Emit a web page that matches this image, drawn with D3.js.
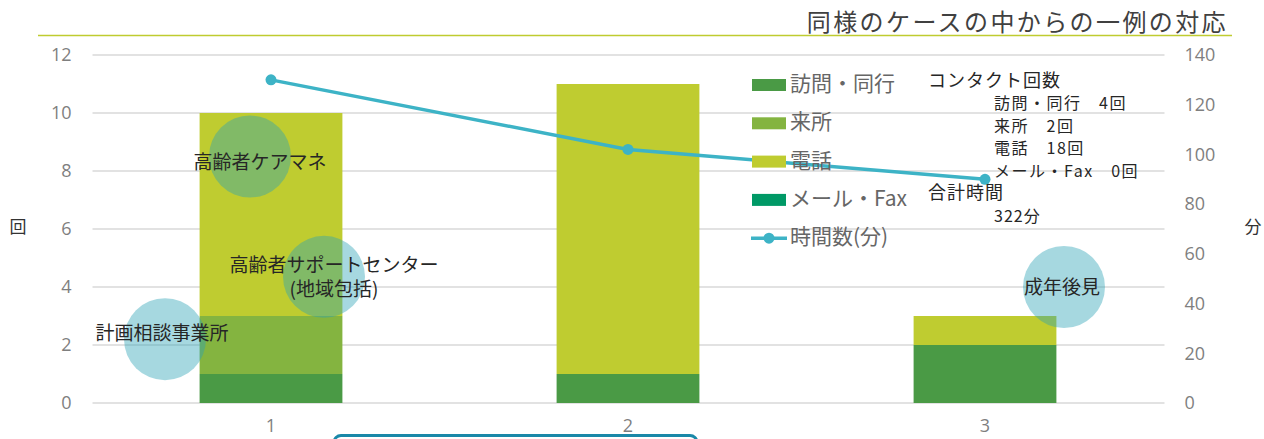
<!DOCTYPE html>
<html><head><meta charset="utf-8">
<script src="https://cdn.jsdelivr.net/npm/d3@7"></script>
<style>
html,body{margin:0;padding:0;background:#fff;}
svg{display:block;font-family:"Noto Sans CJK JP","Noto Sans",sans-serif;}
</style></head>
<body><svg id="c" width="1264" height="439"></svg>
<script>
const categories = ["1","2","3"];
const seriesNames = ["訪問・同行","来所","電話","メール・Fax"];
const seriesColors = ["#4a9a45","#84b440","#bfcc30","#009966"];
const visitValues = [1,1,2];
const comeValues = [2,0,0];
const phoneValues = [7,10,1];
const mailValues = [0,0,0];
const minutesValues = [130,102,90];
const lineName = "時間数(分)";
const leftTicks = [0,2,4,6,8,10,12];
const rightTicks = [0,20,40,60,80,100,120,140];
const title = "同様のケースの中からの一例の対応";
const summaryHead = "コンタクト回数";
const summaryLines = ["訪問・同行　4回","来所　2回","電話　18回","メール・Fax　0回"];
const totalHead = "合計時間";
const totalValue = "322分";
const bubbleLabels = [
  {lines:["計画相談事業所"], cat:"1", dx:-106, v:2.2, ty:2.4, ox:-3},
  {lines:["高齢者ケアマネ"], cat:"1", dx:-21, v:8.5, ty:8.3, ox:10},
  {lines:["高齢者サポートセンター","(地域包括)"], cat:"1", dx:53, v:4.35, ty:4.75, ox:10},
  {lines:["成年後見"], cat:"3", dx:79, v:4.0, ty:4.0, ox:-2}
];

const svg = d3.select("#c");
const L = 92.5, R = 1163.5, T = 55, B = 403;
const x = d3.scaleBand().domain(categories).range([L,R]).paddingInner(0.6).paddingOuter(0.3);
const y = d3.scaleLinear().domain([0,12]).range([B,T]);
const y2 = d3.scaleLinear().domain([0,140]).range([B,T]);

// title
svg.append("text").attr("x",1228).attr("y",31).attr("text-anchor","end")
  .attr("font-size",24).attr("letter-spacing",2.4).attr("fill","#404040").text(title);
svg.append("line").attr("x1",38).attr("x2",1232).attr("y1",35.5).attr("y2",35.5)
  .attr("stroke","#bfcc30").attr("stroke-width",1.5);

// gridlines
svg.append("g").selectAll("line").data(leftTicks).join("line")
  .attr("x1",L).attr("x2",R+1).attr("y1",d=>y(d)).attr("y2",d=>y(d))
  .attr("stroke","#d9d9d9").attr("stroke-width",1.3);

// axes
const ga = svg.append("g").attr("transform",`translate(${L},0)`)
  .call(d3.axisLeft(y).tickValues(leftTicks).tickSize(0).tickPadding(21));
ga.select(".domain").remove();
ga.selectAll("text").attr("font-size",18).attr("fill","#7f7f7f").attr("font-family","Open Sans, sans-serif");
const gr = svg.append("g").attr("transform",`translate(${R},0)`)
  .call(d3.axisRight(y2).tickValues(rightTicks).tickSize(0).tickPadding(21));
gr.select(".domain").remove();
gr.selectAll("text").attr("font-size",18).attr("fill","#7f7f7f").attr("font-family","Open Sans, sans-serif");
const gb = svg.append("g").attr("transform",`translate(0,${B})`)
  .call(d3.axisBottom(x).tickSize(0).tickPadding(16));
gb.select(".domain").remove();
gb.selectAll("text").attr("font-size",18).attr("fill","#7f7f7f").attr("font-family","Open Sans, sans-serif");

svg.append("text").attr("x",18).attr("y",225).attr("text-anchor","middle").attr("dominant-baseline","central")
  .attr("font-size",17).attr("fill","#333").text("回");
svg.append("text").attr("x",1253).attr("y",225).attr("text-anchor","middle").attr("dominant-baseline","central")
  .attr("font-size",17).attr("fill","#333").text("分");

// stacked bars
const rows = categories.map((c,i)=>({cat:c, s0:visitValues[i], s1:comeValues[i], s2:phoneValues[i], s3:mailValues[i]}));
const stack = d3.stack().keys(["s0","s1","s2","s3"])(rows);
svg.append("g").selectAll("g").data(stack).join("g").attr("fill",(d,i)=>seriesColors[i])
  .selectAll("rect").data(d=>d).join("rect")
  .attr("x",d=>x(d.data.cat)).attr("width",x.bandwidth())
  .attr("y",d=>y(d[1])).attr("height",d=>y(d[0])-y(d[1]));

// bubbles
const cx = c => x(c)+x.bandwidth()/2;
svg.append("g").selectAll("circle").data(bubbleLabels).join("circle")
  .attr("cx",d=>cx(d.cat)+d.dx).attr("cy",d=>y(d.v)).attr("r",41)
  .attr("fill","rgb(42,163,182)").attr("fill-opacity",0.42);

// line
const line = d3.line().x((d,i)=>cx(categories[i])).y(d=>y2(d));
svg.append("path").datum(minutesValues).attr("d",line).attr("fill","none")
  .attr("stroke","#3db3c6").attr("stroke-width",3.5);
svg.append("g").selectAll("circle").data(minutesValues).join("circle")
  .attr("cx",(d,i)=>cx(categories[i])).attr("cy",d=>y2(d)).attr("r",5.5).attr("fill","#3db3c6");

// bubble labels (one text element per line)
bubbleLabels.forEach(b=>{
  b.lines.forEach((ln,j)=>{
    svg.append("text").attr("text-anchor","middle").attr("font-size",19).attr("fill","#262626")
      .attr("x",cx(b.cat)+b.dx+b.ox).attr("y",y(b.ty)+7+j*24).text(ln);
  });
});

// legend
const legItems = seriesNames.map((n,i)=>({name:n,color:seriesColors[i],type:"rect"}))
  .concat([{name:lineName,color:"#3db3c6",type:"line"}]);
const lg = svg.append("g");
legItems.forEach((d,i)=>{
  const yy = 85 + i*38.3;
  if(d.type==="rect"){
    lg.append("rect").attr("x",752).attr("y",yy-6).attr("width",34).attr("height",12).attr("fill",d.color);
  } else {
    lg.append("line").attr("x1",751).attr("x2",787).attr("y1",yy).attr("y2",yy).attr("stroke",d.color).attr("stroke-width",3.5);
    lg.append("circle").attr("cx",769).attr("cy",yy).attr("r",5.5).attr("fill",d.color);
  }
  lg.append("text").attr("x",790).attr("y",yy-3).attr("dominant-baseline","central")
    .attr("font-size",21).attr("fill","#666").text(d.name);
});

// summary annotations
svg.append("text").attr("x",928).attr("y",87).attr("font-size",18).attr("letter-spacing",1).attr("fill","#262626").text(summaryHead);
summaryLines.forEach((s,i)=>{
  svg.append("text").attr("x",994).attr("y",109+i*22.6).attr("font-size",16).attr("letter-spacing",1.5).attr("fill","#262626").text(s);
});
svg.append("text").attr("x",928).attr("y",199).attr("font-size",18).attr("letter-spacing",1).attr("fill","#262626").text(totalHead);
svg.append("text").attr("x",994).attr("y",222).attr("font-size",16).attr("letter-spacing",1).attr("fill","#262626").text(totalValue);

// bottom box (partially visible)
svg.append("rect").attr("x",334).attr("y",435.5).attr("width",363).attr("height",30).attr("rx",7)
  .attr("fill","#fff").attr("stroke","#1a88a8").attr("stroke-width",3);
</script></body></html>
